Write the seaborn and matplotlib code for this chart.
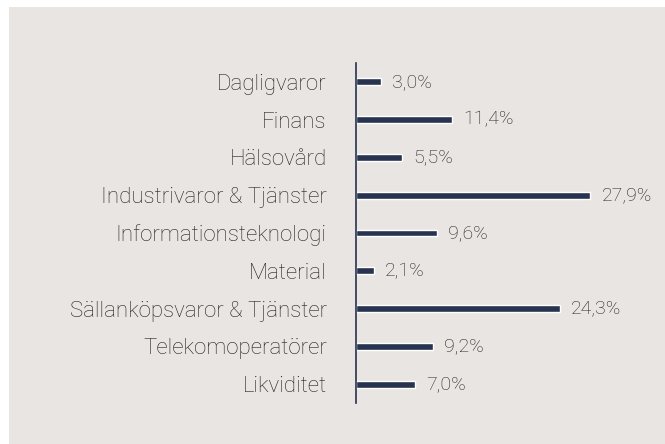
import pandas as pd
import matplotlib
matplotlib.use("Agg")
import matplotlib.pyplot as plt
from matplotlib.patches import Rectangle
import seaborn as sns

# sector weights
sectors = ["Dagligvaror", "Finans", "Hälsovård", "Industrivaror & Tjänster",
           "Informationsteknologi", "Material", "Sällanköpsvaror & Tjänster",
           "Telekomoperatörer", "Likviditet"]
weights = [3.0, 11.4, 5.5, 27.9, 9.6, 2.1, 24.3, 9.2, 7.0]

df = pd.DataFrame({"sector": sectors, "weight": weights})

bar_color = "#283350"
text_color = "#222222"
bg = "#e9e5e2"

sns.set_style("white")
plt.rcParams["font.family"] = ["Roboto", "DejaVu Sans"]

fig = plt.figure(figsize=(6.65, 4.44), dpi=100)
fig.patch.set_facecolor("white")
fig.patches.append(Rectangle((9 / 665, 0), 1, 437 / 444, transform=fig.transFigure,
                             facecolor=bg, edgecolor="none", zorder=-1))

ax = fig.add_axes([356 / 665, 41 / 444, 294 / 665, 340 / 444])
ax.set_facecolor("none")
sns.barplot(data=df, x="weight", y="sector", orient="h", color=bar_color,
            width=0.18, saturation=1, ax=ax)

ax.set_xlim(0, 35)
ax.set_ylim(len(sectors) - 0.5, -0.5)
ax.set_xlabel("")
ax.set_ylabel("")
ax.set_xticks([])
for s in ["top", "right", "bottom"]:
    ax.spines[s].set_visible(False)
ax.spines["left"].set_color(bar_color)
ax.spines["left"].set_linewidth(1.2)
ax.tick_params(axis="y", length=0, pad=21)
for lbl in ax.get_yticklabels():
    lbl.set_fontsize(16)
    lbl.set_fontweight("light")
    lbl.set_color(text_color)

for i, w in enumerate(weights):
    ax.annotate(f"{w:.1f}%".replace(".", ","), (w, i), xytext=(8, 0),
                textcoords="offset points", va="center", ha="left",
                fontsize=14, fontweight="light", color=text_color)

fig.savefig("out.png", dpi=100)
